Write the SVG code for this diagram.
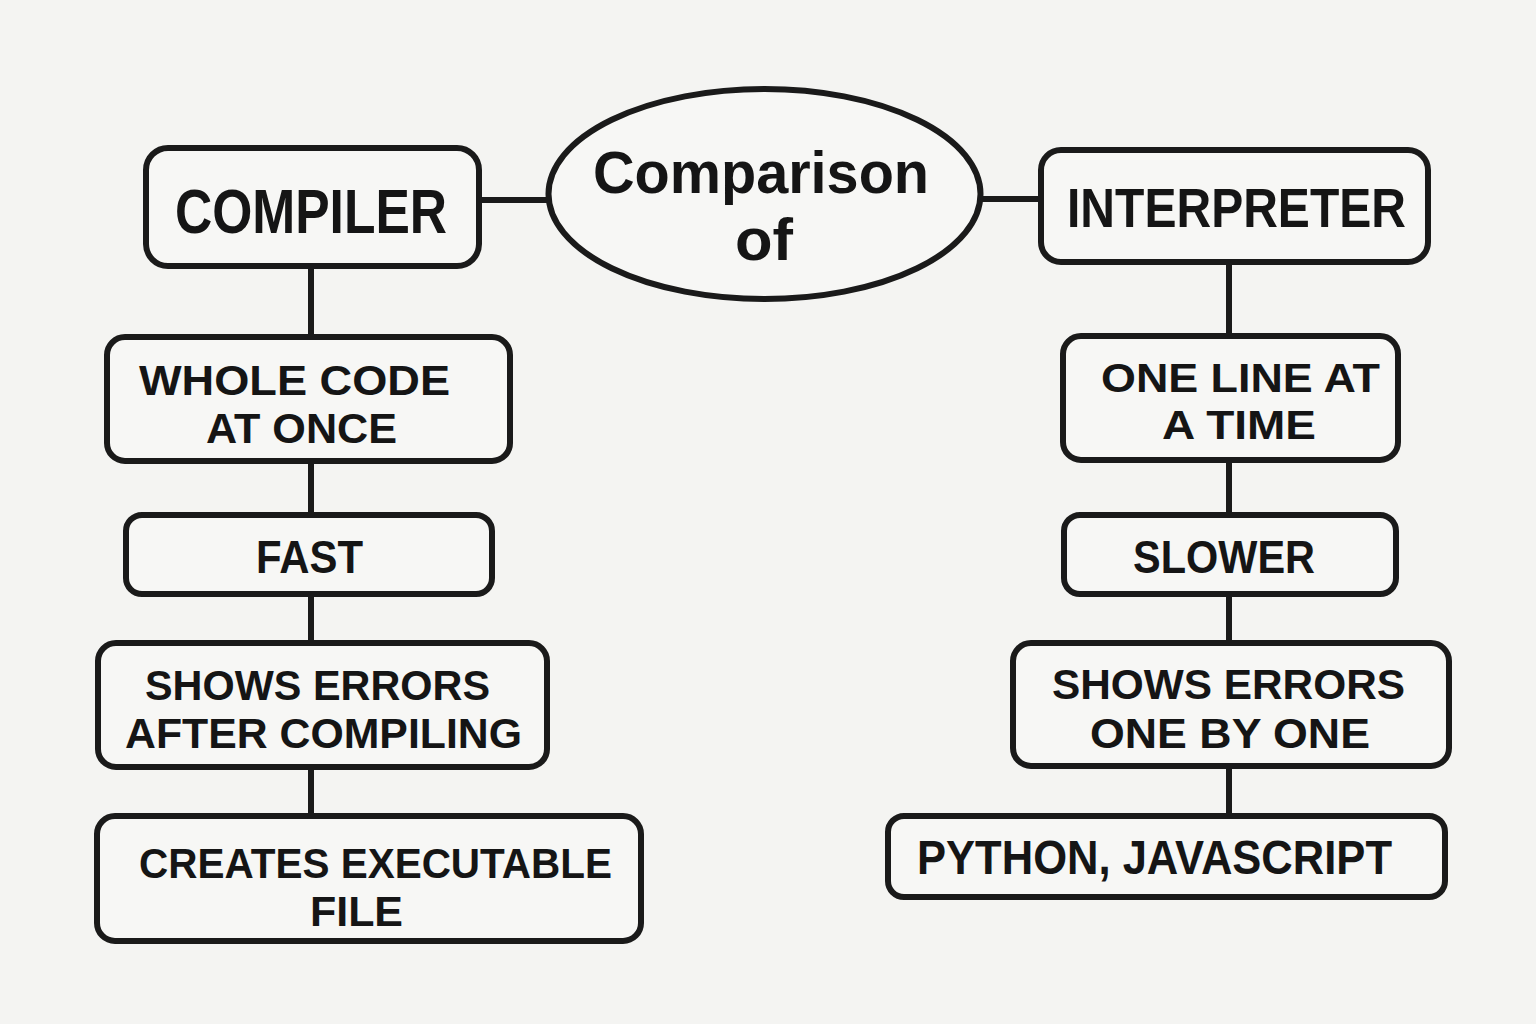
<svg xmlns="http://www.w3.org/2000/svg" width="1536" height="1024" viewBox="0 0 1536 1024">
<style>
.bg{fill:#f4f4f2}
.box{fill:#f7f7f5;stroke:#1a1a1a;stroke-width:6}
.ln{stroke:#1a1a1a;stroke-width:6;fill:none;stroke-linecap:butt}
.t{font-family:"Liberation Sans",Arial,sans-serif;font-weight:bold;fill:#151515}
</style>
<rect class="bg" x="0" y="0" width="1536" height="1024"/>
<g id="connectors">
<line class="ln" x1="479" y1="200" x2="550" y2="200"/>
<line class="ln" x1="979" y1="199" x2="1042" y2="199"/>
<line class="ln" x1="311" y1="266" x2="311" y2="337"/>
<line class="ln" x1="311" y1="461" x2="311" y2="515"/>
<line class="ln" x1="311" y1="594" x2="311" y2="643"/>
<line class="ln" x1="311" y1="767" x2="311" y2="816"/>
<line class="ln" x1="1229" y1="262" x2="1229" y2="336"/>
<line class="ln" x1="1229" y1="460" x2="1229" y2="515"/>
<line class="ln" x1="1229" y1="594" x2="1229" y2="643"/>
<line class="ln" x1="1229" y1="766" x2="1229" y2="816"/>
</g>
<g id="center">
<ellipse class="box" cx="764.5" cy="194" rx="216" ry="105"/>
<text class="t" x="593" y="193" font-size="59" textLength="336" lengthAdjust="spacingAndGlyphs">Comparison</text>
<text class="t" x="735" y="260" font-size="59" textLength="58" lengthAdjust="spacingAndGlyphs">of</text>
</g>
<g id="compiler">
<rect class="box" x="146" y="148" width="333" height="118" rx="22"/>
<text class="t" x="175" y="233" font-size="63" textLength="272" lengthAdjust="spacingAndGlyphs">COMPILER</text>
</g>
<g id="interpreter">
<rect class="box" x="1041" y="150" width="387" height="112" rx="20"/>
<text class="t" x="1067" y="227" font-size="56" textLength="339" lengthAdjust="spacingAndGlyphs">INTERPRETER</text>
</g>
<g id="whole-code">
<rect class="box" x="107" y="337" width="403" height="124" rx="18"/>
<text class="t" x="139" y="395" font-size="42" textLength="311" lengthAdjust="spacingAndGlyphs">WHOLE CODE</text>
<text class="t" x="206" y="443" font-size="42" textLength="191" lengthAdjust="spacingAndGlyphs">AT ONCE</text>
</g>
<g id="fast">
<rect class="box" x="126" y="515" width="366" height="79" rx="16"/>
<text class="t" x="256" y="573" font-size="47" textLength="107" lengthAdjust="spacingAndGlyphs">FAST</text>
</g>
<g id="errors-after">
<rect class="box" x="98" y="643" width="449" height="124" rx="18"/>
<text class="t" x="145" y="700" font-size="42" textLength="345" lengthAdjust="spacingAndGlyphs">SHOWS ERRORS</text>
<text class="t" x="125" y="748" font-size="42" textLength="397" lengthAdjust="spacingAndGlyphs">AFTER COMPILING</text>
</g>
<g id="executable">
<rect class="box" x="97" y="816" width="544" height="125" rx="18"/>
<text class="t" x="139" y="878" font-size="42" textLength="473" lengthAdjust="spacingAndGlyphs">CREATES EXECUTABLE</text>
<text class="t" x="310" y="926" font-size="42" textLength="93" lengthAdjust="spacingAndGlyphs">FILE</text>
</g>
<g id="one-line">
<rect class="box" x="1063" y="336" width="335" height="124" rx="18"/>
<text class="t" x="1101" y="392" font-size="41" textLength="279" lengthAdjust="spacingAndGlyphs">ONE LINE AT</text>
<text class="t" x="1162" y="439" font-size="41" textLength="154" lengthAdjust="spacingAndGlyphs">A TIME</text>
</g>
<g id="slower">
<rect class="box" x="1064" y="515" width="332" height="79" rx="16"/>
<text class="t" x="1133" y="573" font-size="47" textLength="182" lengthAdjust="spacingAndGlyphs">SLOWER</text>
</g>
<g id="errors-one">
<rect class="box" x="1013" y="643" width="436" height="123" rx="18"/>
<text class="t" x="1052" y="699" font-size="42" textLength="353" lengthAdjust="spacingAndGlyphs">SHOWS ERRORS</text>
<text class="t" x="1090" y="748" font-size="42" textLength="280" lengthAdjust="spacingAndGlyphs">ONE BY ONE</text>
</g>
<g id="languages">
<rect class="box" x="888" y="816" width="557" height="81" rx="16"/>
<text class="t" x="917" y="874" font-size="49" textLength="475" lengthAdjust="spacingAndGlyphs">PYTHON, JAVASCRIPT</text>
</g>
</svg>
